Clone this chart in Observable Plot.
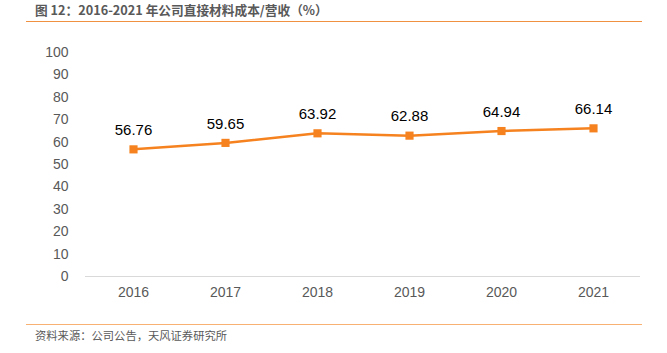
<!DOCTYPE html>
<html>
<head>
<meta charset="utf-8">
<script src="https://cdn.jsdelivr.net/npm/d3@7"></script>
<script src="https://cdn.jsdelivr.net/npm/@observablehq/plot@0.6"></script>
<style>
  html, body { margin: 0; padding: 0; background: #fff; }
  #wrap { position: relative; width: 667px; height: 353px; overflow: hidden; font-family: "Liberation Sans", Arial, sans-serif; }
  #title { position: absolute; left: 35px; top: 1px; font-family: "Noto Sans CJK SC", sans-serif; font-size: 12.7px; line-height: 18px; font-weight: bold; color: #595959; white-space: nowrap; }
  #topline { position: absolute; left: 26px; top: 21px; width: 616px; height: 1.3px; background: #ef9140; }
  #botline { position: absolute; left: 26px; top: 323.5px; width: 616px; height: 1.5px; background: #f8b173; }
  #source { position: absolute; left: 35px; top: 327px; font-family: "Noto Sans CJK SC", sans-serif; font-size: 11.3px; line-height: 16px; color: #595959; white-space: nowrap; }
  #chart { position: absolute; left: 0; top: 0; }
</style>
</head>
<body>
<div id="wrap">
  <div id="chart"></div>
  <div id="title">图 12：2016-2021 年公司直接材料成本/营收（%）</div>
  <div id="topline"></div>
  <div id="botline"></div>
  <div id="source">资料来源：公司公告，天风证券研究所</div>
</div>
<script>
const years = ["2016", "2017", "2018", "2019", "2020", "2021"];
const ratios = [56.76, 59.65, 63.92, 62.88, 64.94, 66.14];
const yTicks = [0, 10, 20, 30, 40, 50, 60, 70, 80, 90, 100];

const data = years.map((y, i) => ({year: y, value: ratios[i]}));
const orange = "#f5821f";

const chart = Plot.plot({
  width: 667,
  height: 353,
  marginLeft: 85,
  marginRight: 27,
  marginTop: 52,
  marginBottom: 77,
  style: {fontFamily: "'Liberation Sans', Arial, sans-serif", background: "transparent"},
  x: {type: "point", domain: years, padding: 0.5, label: null},
  y: {domain: [0, 100], label: null},
  marks: [
    Plot.axisY({ticks: yTicks, tickSize: 0, tickPadding: 17, fontSize: 14, color: "#595959", label: null}),
    Plot.axisX({tickSize: 0, tickPadding: 11, fontSize: 14, color: "#595959", label: null}),
    Plot.ruleY([0], {stroke: "#d9d9d9", strokeWidth: 1}),
    Plot.line(data, {x: "year", y: "value", stroke: orange, strokeWidth: 2.5}),
    Plot.dot(data, {x: "year", y: "value", symbol: "square", r: 4.6, fill: orange, stroke: "none"}),
    Plot.text(data, {x: "year", y: "value", text: d => d.value.toFixed(2), dy: -19, fontSize: 15, fill: "#000"})
  ]
});
document.getElementById("chart").appendChild(chart);
</script>
</body>
</html>
